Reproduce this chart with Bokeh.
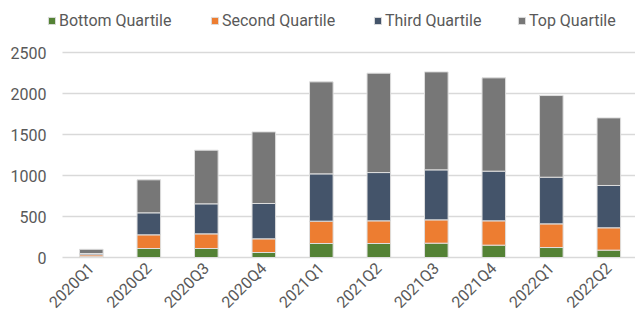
import math
from bokeh.plotting import figure
from bokeh.models import Range1d, FixedTicker, Legend, LegendItem, ColumnDataSource
from bokeh.models import Grid
from bokeh.embed import file_html
from bokeh.resources import INLINE

quarters = ["2020Q1", "2020Q2", "2020Q3", "2020Q4", "2021Q1",
            "2021Q2", "2021Q3", "2021Q4", "2022Q1", "2022Q2"]
bottom_q = [10, 110, 110, 61, 171, 171, 175, 151, 122, 90]
second_q = [23, 167, 179, 167, 273, 277, 285, 297, 289, 273]
third_q = [16, 269, 367, 432, 578, 590, 611, 607, 570, 517]
top_q = [51, 403, 655, 875, 1124, 1214, 1197, 1140, 998, 826]
y_ticks = [0, 500, 1000, 1500, 2000, 2500]

series_names = ["Bottom Quartile", "Second Quartile", "Third Quartile", "Top Quartile"]
colors = ["#548235", "#ED7D31", "#44546A", "#777777"]

xs = list(range(len(quarters)))
source = ColumnDataSource(dict(x=xs, b=bottom_q, s=second_q, t=third_q, tp=top_q))

FONT = "Roboto"
TXT = "#595959"

p = figure(width=635, height=322, output_backend="svg", toolbar_location=None,
           x_range=Range1d(-0.762, 9.464), y_range=Range1d(-24.4, 3140.3),
           min_border_left=47, min_border_right=0, min_border_top=0, min_border_bottom=63)
p.outline_line_color = None
p.background_fill_color = "white"
p.border_fill_color = "white"

renderers = p.vbar_stack(["b", "s", "t", "tp"], x="x", width=0.41, source=source,
                         color=colors, line_color="#dedede", line_width=1)
for r, c in zip(renderers, colors):
    r.glyph.fill_color = c
    r.glyph.line_color = "#dedede"

p.xgrid.visible = False
p.ygrid.ticker = FixedTicker(ticks=y_ticks)
p.ygrid.grid_line_color = "#d9d9d9"
p.ygrid.grid_line_width = 1.5
if "cross_bounds" in Grid.properties():
    p.ygrid.cross_bounds = (-0.5, 9.464)

p.yaxis.ticker = FixedTicker(ticks=y_ticks)
p.yaxis.axis_line_color = None
p.yaxis.major_tick_line_color = None
p.yaxis.minor_tick_line_color = None
p.yaxis.major_tick_out = 0
p.yaxis.major_label_standoff = 1
p.yaxis.major_label_text_font = FONT
p.yaxis.major_label_text_font_size = "16px"
p.yaxis.major_label_text_color = TXT

p.xaxis.ticker = FixedTicker(ticks=xs)
p.xaxis.major_label_overrides = {i: q for i, q in zip(xs, quarters)}
p.xaxis.axis_line_color = None
p.xaxis.major_tick_line_color = None
p.xaxis.minor_tick_line_color = None
p.xaxis.major_tick_out = 0
p.xaxis.major_label_standoff = 6
p.xaxis.major_label_orientation = math.pi / 4
p.xaxis.major_label_text_font = FONT
p.xaxis.major_label_text_font_size = "16px"
p.xaxis.major_label_text_color = TXT

legend_x = [47, 210, 373, 517]
for r, name, lx in zip(renderers, series_names, legend_x):
    lg = Legend(items=[LegendItem(label=name, renderers=[r])],
                location=(lx - 47, 229), orientation="horizontal",
                glyph_width=9, glyph_height=9, label_standoff=3,
                label_height=18, padding=0, margin=0, spacing=0,
                border_line_color=None, background_fill_alpha=0,
                label_text_font=FONT, label_text_font_size="16px",
                label_text_color=TXT)
    p.add_layout(lg, "center")

open("out.html", "w").write(file_html(p, INLINE))
